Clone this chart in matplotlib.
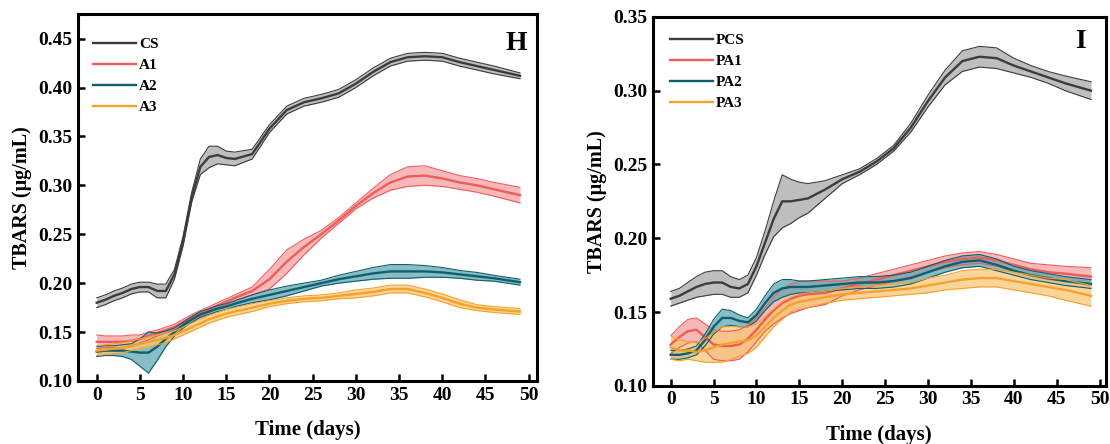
import numpy as np
import matplotlib
matplotlib.use('Agg')
import matplotlib.pyplot as plt

plt.rcParams['font.family'] = ['Liberation Serif', 'DejaVu Serif']
plt.rcParams['font.weight'] = 'bold'

# sampling days shared by every series
days = [0, 1, 2, 3, 4, 5, 6, 7, 8, 9, 10, 11, 12, 13, 14, 15, 16, 18, 20, 22,
        24, 26, 28, 30, 32, 34, 36, 38, 40, 42, 44, 46, 49]

# panel H: mean and half band width
cs = [0.180, 0.183, 0.187, 0.190, 0.194, 0.196, 0.196, 0.192, 0.192, 0.209, 0.243, 0.288, 0.319,
      0.329, 0.331, 0.328, 0.327, 0.332, 0.358, 0.377, 0.385, 0.389, 0.394, 0.404, 0.416, 0.426,
      0.431, 0.432, 0.431, 0.426, 0.422, 0.418, 0.412]
cs_sd = [0.005, 0.005, 0.005, 0.005, 0.005, 0.005, 0.005, 0.007, 0.007, 0.005, 0.005, 0.005, 0.008,
         0.011, 0.009, 0.007, 0.007, 0.005, 0.004, 0.004, 0.004, 0.004, 0.004, 0.004, 0.004, 0.004,
         0.004, 0.004, 0.004, 0.004, 0.004, 0.004, 0.003]
a1 = [0.140, 0.140, 0.140, 0.140, 0.141, 0.143, 0.146, 0.149, 0.152, 0.155, 0.160, 0.165, 0.169,
      0.173, 0.177, 0.181, 0.185, 0.192, 0.204, 0.222, 0.237, 0.250, 0.264, 0.279, 0.292, 0.303,
      0.309, 0.310, 0.307, 0.303, 0.300, 0.296, 0.290]
a1_sd = [0.007, 0.006, 0.006, 0.006, 0.006, 0.004, 0.004, 0.003, 0.003, 0.003, 0.003, 0.003, 0.003,
         0.003, 0.003, 0.003, 0.003, 0.004, 0.010, 0.012, 0.008, 0.004, 0.003, 0.003, 0.005, 0.008,
         0.010, 0.010, 0.008, 0.007, 0.007, 0.007, 0.008]
a2 = [0.130, 0.131, 0.131, 0.131, 0.130, 0.129, 0.129, 0.135, 0.143, 0.150, 0.157, 0.163, 0.168,
      0.171, 0.174, 0.176, 0.179, 0.184, 0.188, 0.192, 0.196, 0.200, 0.204, 0.207, 0.210, 0.212,
      0.212, 0.212, 0.211, 0.209, 0.207, 0.205, 0.201]
a2_sd = [0.005, 0.005, 0.005, 0.006, 0.008, 0.014, 0.021, 0.014, 0.008, 0.004, 0.003, 0.003, 0.003,
         0.003, 0.003, 0.003, 0.003, 0.004, 0.005, 0.005, 0.004, 0.003, 0.004, 0.005, 0.006, 0.007,
         0.007, 0.006, 0.005, 0.004, 0.004, 0.003, 0.003]
a3 = [0.131, 0.132, 0.133, 0.134, 0.136, 0.138, 0.140, 0.142, 0.144, 0.147, 0.151, 0.155, 0.159,
      0.163, 0.166, 0.169, 0.171, 0.175, 0.179, 0.182, 0.184, 0.185, 0.187, 0.189, 0.191, 0.194,
      0.194, 0.190, 0.185, 0.179, 0.175, 0.173, 0.171]
a3_sd = [0.005, 0.005, 0.005, 0.005, 0.005, 0.005, 0.005, 0.005, 0.005, 0.004, 0.004, 0.004, 0.004,
         0.004, 0.004, 0.004, 0.004, 0.004, 0.003, 0.003, 0.003, 0.003, 0.003, 0.004, 0.004, 0.004,
         0.004, 0.004, 0.004, 0.004, 0.003, 0.003, 0.003]

# panel I
pcs = [0.159, 0.161, 0.164, 0.167, 0.169, 0.170, 0.170, 0.167, 0.166, 0.169, 0.181, 0.197, 0.213,
       0.225, 0.225, 0.226, 0.227, 0.233, 0.240, 0.245, 0.252, 0.261, 0.275, 0.293, 0.309, 0.320,
       0.323, 0.322, 0.317, 0.313, 0.309, 0.305, 0.300]
pcs_sd = [0.005, 0.005, 0.006, 0.007, 0.008, 0.008, 0.008, 0.007, 0.006, 0.006, 0.006, 0.008, 0.012,
          0.018, 0.015, 0.012, 0.010, 0.006, 0.003, 0.002, 0.002, 0.002, 0.003, 0.004, 0.005, 0.007,
          0.007, 0.007, 0.005, 0.004, 0.004, 0.005, 0.006]
pa1 = [0.128, 0.133, 0.137, 0.138, 0.133, 0.128, 0.127, 0.127, 0.128, 0.132, 0.138, 0.145, 0.151,
       0.156, 0.159, 0.161, 0.162, 0.163, 0.166, 0.169, 0.172, 0.175, 0.178, 0.181, 0.184, 0.186,
       0.187, 0.185, 0.182, 0.179, 0.177, 0.176, 0.174]
pa1_sd = [0.006, 0.007, 0.008, 0.008, 0.009, 0.010, 0.010, 0.010, 0.010, 0.009, 0.008, 0.008, 0.009,
          0.010, 0.010, 0.010, 0.009, 0.008, 0.005, 0.004, 0.004, 0.004, 0.004, 0.004, 0.004, 0.004,
          0.004, 0.004, 0.004, 0.004, 0.005, 0.005, 0.006]
pa2 = [0.121, 0.121, 0.122, 0.124, 0.131, 0.140, 0.146, 0.146, 0.144, 0.143, 0.148, 0.156, 0.163,
       0.166, 0.167, 0.167, 0.167, 0.168, 0.169, 0.170, 0.170, 0.171, 0.173, 0.177, 0.181, 0.184,
       0.185, 0.182, 0.178, 0.175, 0.173, 0.171, 0.169]
pa2_sd = [0.003, 0.003, 0.003, 0.003, 0.004, 0.005, 0.006, 0.005, 0.004, 0.003, 0.004, 0.005, 0.006,
          0.006, 0.005, 0.004, 0.004, 0.004, 0.004, 0.004, 0.004, 0.004, 0.004, 0.004, 0.004, 0.004,
          0.004, 0.004, 0.003, 0.003, 0.003, 0.003, 0.003]
pa3 = [0.126, 0.124, 0.124, 0.123, 0.124, 0.126, 0.128, 0.129, 0.130, 0.131, 0.134, 0.140, 0.146,
       0.151, 0.155, 0.157, 0.158, 0.160, 0.162, 0.163, 0.164, 0.165, 0.166, 0.168, 0.170, 0.172,
       0.173, 0.173, 0.171, 0.169, 0.167, 0.165, 0.161]
pa3_sd = [0.008, 0.007, 0.006, 0.006, 0.008, 0.010, 0.012, 0.011, 0.010, 0.009, 0.008, 0.007, 0.006,
          0.006, 0.005, 0.005, 0.005, 0.004, 0.004, 0.004, 0.004, 0.004, 0.004, 0.005, 0.005, 0.006,
          0.006, 0.006, 0.006, 0.006, 0.006, 0.007, 0.007]

labels_h = ['CS', 'A1', 'A2', 'A3']
labels_i = ['PCS', 'PA1', 'PA2', 'PA3']
colors = ['#3c3c3c', '#f05b5b', '#0f5f6e', '#f7a12a']
fills = ['#a8a8a8', '#f3a0a0', '#5fa7b2', '#f9c77a']

fig = plt.figure(figsize=(11.1, 4.44), dpi=100)
ax1 = fig.add_axes([0.070, 0.142, 0.414, 0.826])
ax2 = fig.add_axes([0.588, 0.131, 0.408, 0.831])


def draw(ax, series, sds, labels, ylim, yticks):
    x = np.array(days)
    for m, s, lab, c, f in zip(series, sds, labels, colors, fills):
        m = np.array(m)
        s = np.array(s)
        ax.fill_between(x, m - s, m + s, color=f, alpha=0.75, lw=0)
        ax.plot(x, m - s, color=c, lw=0.8)
        ax.plot(x, m + s, color=c, lw=0.8)
        ax.plot(x, m, color=c, lw=1.7, label=lab)
    ax.set_xlim(-2.2, 51)
    ax.set_ylim(*ylim)
    ax.set_xticks(range(0, 51, 5))
    ax.set_yticks(yticks)
    ax.set_yticklabels(['%.2f' % t for t in yticks])
    ax.tick_params(direction='in', length=5, width=1.8, labelsize=14, pad=4)
    for sp in ax.spines.values():
        sp.set_linewidth(2.2)
    ax.set_xlabel('Time (days)', fontsize=15, fontweight='bold', labelpad=12)
    ax.set_ylabel('TBARS (μg/mL)', fontsize=14.5, fontweight='bold', labelpad=4)


draw(ax1, [cs, a1, a2, a3], [cs_sd, a1_sd, a2_sd, a3_sd], labels_h,
     (0.10, 0.475), [0.10, 0.15, 0.20, 0.25, 0.30, 0.35, 0.40, 0.45])
draw(ax2, [pcs, pa1, pa2, pa3], [pcs_sd, pa1_sd, pa2_sd, pa3_sd], labels_i,
     (0.10, 0.35), [0.10, 0.15, 0.20, 0.25, 0.30, 0.35])
ax2.set_xlim(-2.1, 50.7)

ax1.text(0.977, 0.955, 'H', transform=ax1.transAxes, ha='right', va='top',
         fontsize=20, fontweight='bold')
ax2.text(0.956, 0.968, 'I', transform=ax2.transAxes, ha='right', va='top',
         fontsize=20, fontweight='bold')

leg1 = ax1.legend(loc='upper left', bbox_to_anchor=(0.0, 0.978), frameon=False, fontsize=11,
                  handlelength=2.8, handletextpad=0.2, labelspacing=0.48, borderaxespad=0.6)
leg2 = ax2.legend(loc='upper left', bbox_to_anchor=(0.005, 0.997), frameon=False, fontsize=11,
                  handlelength=2.8, handletextpad=0.2, labelspacing=0.48, borderaxespad=0.6)
for leg in (leg1, leg2):
    for t in leg.get_texts():
        t.set_fontweight('bold')

fig.savefig('out.png', dpi=100)
